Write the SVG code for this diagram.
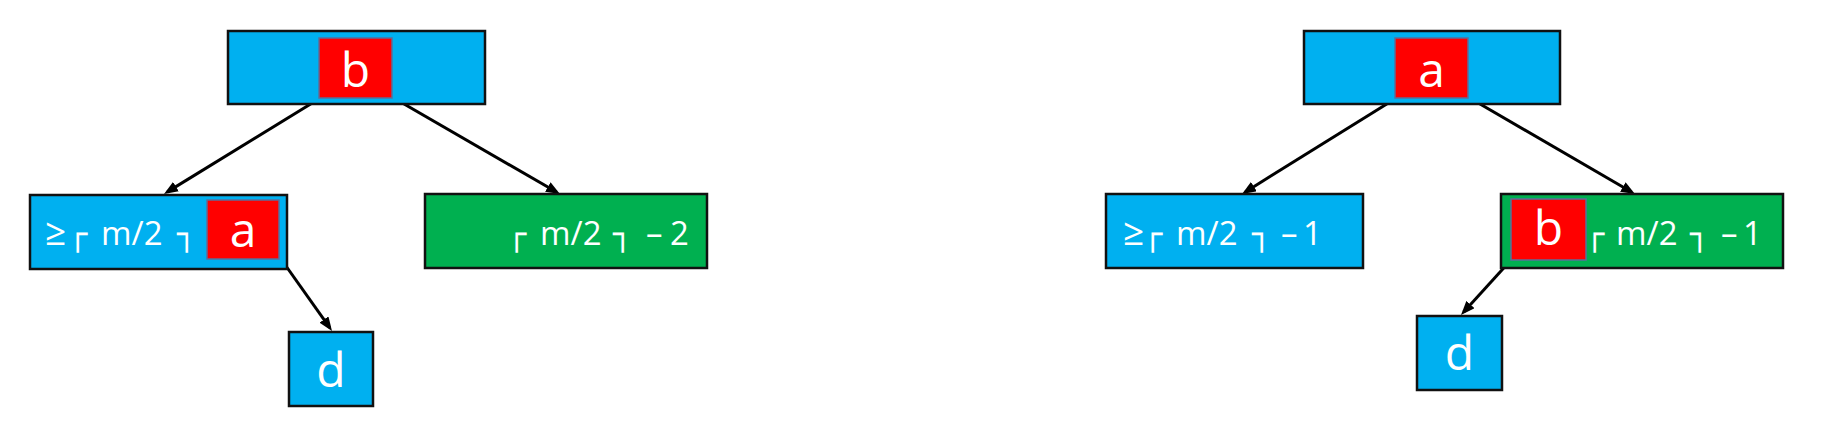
<svg xmlns="http://www.w3.org/2000/svg" width="1826" height="440" viewBox="0 0 1826 440">
<defs>
<marker id="arr" viewBox="0 0 14 11" refX="10" refY="5.5" markerWidth="14" markerHeight="11" markerUnits="userSpaceOnUse" orient="auto">
<path d="M0,0 L14,5.5 L0,11 z" fill="#000"/>
</marker>
<style>
.blue{fill:#00B0F0;stroke:#111;stroke-width:2.5}
.green{fill:#00B050;stroke:#111;stroke-width:2.5}
.red{fill:#FF0000;stroke:#5B6E9A;stroke-width:1.5}
.lbl{font-family:"Open Sans","Liberation Sans",sans-serif;font-size:48px;fill:#fff;text-anchor:middle}
.f{font-family:"Open Sans","Liberation Sans",sans-serif;font-size:33px;fill:#fff}
.ge{font-size:37px}
.bx{font-family:"DejaVu Sans",sans-serif;font-size:32px;fill:#fff}
.edge{stroke:#000;stroke-width:3;fill:none;marker-end:url(#arr)}
</style>
</defs>
<rect width="1826" height="440" fill="#fff"/>
<g id="connectors">
<line class="edge" x1="322" y1="97" x2="167.4" y2="191.9"/>
<line class="edge" x1="392" y1="97" x2="556.5" y2="192"/>
<line class="edge" x1="281" y1="259" x2="329.7" y2="327.7"/>
<line class="edge" x1="1398" y1="97" x2="1245.4" y2="191.9"/>
<line class="edge" x1="1468" y1="97" x2="1631.5" y2="192"/>
<line class="edge" x1="1511" y1="260" x2="1463.7" y2="312"/>
</g>
<g id="L-root">
<rect class="blue" x="228" y="31" width="257" height="73"/>
<rect class="red" x="319" y="38" width="73" height="60"/>
<text class="lbl" x="355.5" y="87">b</text>
</g>
<g id="L-left">
<rect class="blue" x="30" y="195" width="257" height="74"/>
<rect class="red" x="207" y="200" width="72" height="59"/>
<text class="lbl" x="243" y="247">a</text>
<text class="f" y="245"><tspan class="ge" x="45">≥</tspan><tspan class="bx" x="68">┌</tspan><tspan x="101">m/2</tspan><tspan class="bx" x="177">┐</tspan></text>
</g>
<g id="L-right">
<rect class="green" x="425" y="194" width="282" height="74"/>
<text class="f" y="245"><tspan class="bx" x="507">┌</tspan><tspan x="540">m/2</tspan><tspan class="bx" x="613">┐</tspan><tspan x="646">–</tspan><tspan x="670">2</tspan></text>
</g>
<g id="L-d">
<rect class="blue" x="289" y="332" width="84" height="74"/>
<text class="lbl" x="331" y="387">d</text>
</g>
<g id="R-root">
<rect class="blue" x="1304" y="31" width="256" height="73"/>
<rect class="red" x="1395" y="38" width="73" height="60"/>
<text class="lbl" x="1431.5" y="87">a</text>
</g>
<g id="R-left">
<rect class="blue" x="1106" y="194" width="257" height="74"/>
<text class="f" y="245"><tspan class="ge" x="1123">≥</tspan><tspan class="bx" x="1143">┌</tspan><tspan x="1176">m/2</tspan><tspan class="bx" x="1252">┐</tspan><tspan x="1281">–</tspan><tspan x="1303">1</tspan></text>
</g>
<g id="R-right">
<rect class="green" x="1501" y="194" width="282" height="74"/>
<rect class="red" x="1511" y="199" width="75" height="61"/>
<text class="lbl" x="1548.5" y="245">b</text>
<text class="f" y="245"><tspan class="bx" x="1585">┌</tspan><tspan x="1616">m/2</tspan><tspan class="bx" x="1690">┐</tspan><tspan x="1721">–</tspan><tspan x="1743">1</tspan></text>
</g>
<g id="R-d">
<rect class="blue" x="1417" y="316" width="85" height="74"/>
<text class="lbl" x="1459.5" y="370">d</text>
</g>
</svg>
